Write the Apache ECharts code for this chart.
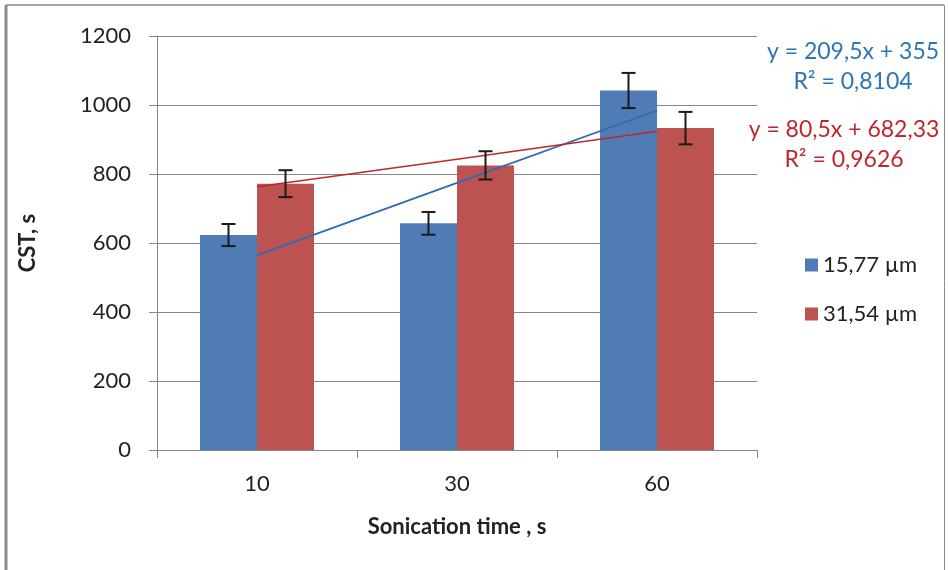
<!DOCTYPE html>
<html>
<head>
<meta charset="utf-8">
<script src="https://cdn.jsdelivr.net/npm/echarts@6/dist/echarts.min.js"></script>
<style>
  html, body { margin: 0; padding: 0; background: #fff; }
  #main { width: 948px; height: 570px; }
</style>
</head>
<body>
<div id="main"></div>
<script>
// data
var categories = ['10', '30', '60'];
var seriesNames = ['15,77 µm', '31,54 µm'];
var valuesBlue = [623, 657, 1042];
var valuesRed = [772, 825, 933];
var errBlue = [32, 33, 51];
var errRed = [39, 41, 47];
var trendBlue = [564, 774, 984];
var trendRed = [763, 843, 924];
var yTicks = [0, 200, 400, 600, 800, 1000, 1200];

var blue = '#4F7CB5';
var red = '#BC5350';
var font = 'Lato, "Liberation Sans", sans-serif';

var chart = echarts.init(document.getElementById('main'));

// error bar drawn at the centre of its bar (offset = fraction of category band)
function errorSeries(vals, errs, offset) {
    return {
        type: 'custom',
        z: 5,
        silent: true,
        data: vals.map(function (v, i) { return [i, v, errs[i]]; }),
        renderItem: function (params, api) {
            var i = api.value(0), v = api.value(1), e = api.value(2);
            var band = api.size([1, 0])[0];
            var x = api.coord([i, v])[0] + offset * band;
            var top = api.coord([i, v + e])[1];
            var bot = api.coord([i, v - e])[1];
            var cap = 7;
            var style = { stroke: '#1a1a1a', lineWidth: 2 };
            return {
                type: 'group',
                children: [
                    { type: 'line', shape: { x1: x, y1: top, x2: x, y2: bot }, style: style },
                    { type: 'line', shape: { x1: x - cap, y1: top, x2: x + cap, y2: top }, style: style },
                    { type: 'line', shape: { x1: x - cap, y1: bot, x2: x + cap, y2: bot }, style: style }
                ]
            };
        }
    };
}

var option = {
    animation: false,
    backgroundColor: '#fff',
    textStyle: { fontFamily: font },
    grid: { left: 157, right: 191, top: 36, bottom: 120 },
    legend: {
        data: seriesNames,
        orient: 'vertical',
        left: 800,
        top: 249,
        itemGap: 27,
        icon: 'rect',
        itemWidth: 13,
        itemHeight: 13,
        textStyle: { fontSize: 22, color: '#222', fontFamily: font }
    },
    xAxis: {
        type: 'category',
        data: categories,
        name: 'Sonication time , s',
        nameLocation: 'middle',
        nameGap: 66,
        nameTextStyle: { fontSize: 22, fontWeight: 'bold', color: '#222', fontFamily: font },
        axisLine: { lineStyle: { color: '#868686', width: 1 } },
        axisTick: { show: true, length: 8, lineStyle: { color: '#868686' } },
        axisLabel: { fontSize: 22, color: '#222', margin: 23 }
    },
    yAxis: {
        type: 'value',
        min: 0,
        max: 1200,
        interval: 200,
        name: 'CST, s',
        nameLocation: 'middle',
        nameGap: 118,
        nameRotate: 90,
        nameTextStyle: { fontSize: 22, fontWeight: 'bold', color: '#222', fontFamily: font },
        axisLine: { show: true, lineStyle: { color: '#868686', width: 1 } },
        axisTick: { show: true, inside: false, length: 8, lineStyle: { color: '#868686' } },
        axisLabel: {
            fontSize: 22, color: '#222', margin: 26,
            formatter: function (v) { return yTicks.indexOf(v) >= 0 ? String(v) : ''; }
        },
        splitLine: { lineStyle: { color: '#868686', width: 1 } }
    },
    series: [
        {
            name: seriesNames[0],
            type: 'bar',
            data: valuesBlue,
            barWidth: '28.5%',
            barGap: '0%',
            itemStyle: { color: blue }
        },
        {
            name: seriesNames[1],
            type: 'bar',
            data: valuesRed,
            barWidth: '28.5%',
            barGap: '0%',
            itemStyle: { color: red }
        },
        {
            type: 'line',
            data: trendBlue,
            symbol: 'none',
            z: 4,
            lineStyle: { color: '#2E6DB0', width: 1.8 }
        },
        {
            type: 'line',
            data: trendRed,
            symbol: 'none',
            z: 4,
            lineStyle: { color: '#C0272D', width: 1.5 }
        },
        errorSeries(valuesBlue, errBlue, -0.1425),
        errorSeries(valuesRed, errRed, 0.1425)
    ],
    graphic: [
        { type: 'line', shape: { x1: 6, y1: 5, x2: 944, y2: 5 }, style: { stroke: '#8a8a8a', lineWidth: 1.5 } },
        { type: 'line', shape: { x1: 6, y1: 5, x2: 6, y2: 570 }, style: { stroke: '#8a8a8a', lineWidth: 3 } },
        { type: 'line', shape: { x1: 944.5, y1: 5, x2: 944.5, y2: 570 }, style: { stroke: '#8a8a8a', lineWidth: 1 } },
        { type: 'text', x: 853, y: 52, style: { text: 'y = 209,5x + 355', fill: '#2E75B6', font: '23px ' + font, textAlign: 'center', textVerticalAlign: 'middle' } },
        { type: 'text', x: 853, y: 82, style: { text: 'R² = 0,8104', fill: '#2E75B6', font: '23px ' + font, textAlign: 'center', textVerticalAlign: 'middle' } },
        { type: 'text', x: 844, y: 130, style: { text: 'y = 80,5x + 682,33', fill: '#C0272D', font: '23px ' + font, textAlign: 'center', textVerticalAlign: 'middle' } },
        { type: 'text', x: 844, y: 160, style: { text: 'R² = 0,9626', fill: '#C0272D', font: '23px ' + font, textAlign: 'center', textVerticalAlign: 'middle' } }
    ]
};
chart.setOption(option);
</script>
</body>
</html>
